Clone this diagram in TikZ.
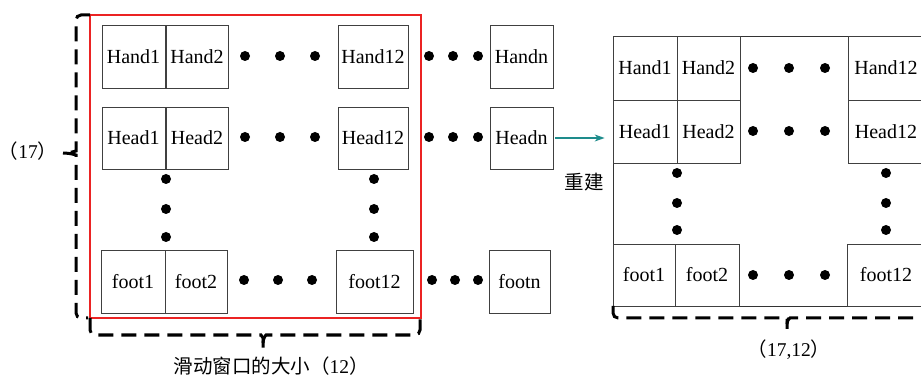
\documentclass[tikz,border=0pt]{standalone}
\usepackage{fontspec}
\setmainfont{Liberation Serif}
\newfontfamily\cjk{Noto Sans CJK SC}
\usetikzlibrary{arrows.meta}
\definecolor{teal1}{RGB}{30,140,140}
\definecolor{red1}{RGB}{235,35,35}
\begin{document}
\begin{tikzpicture}[x=1pt,y=-1pt,
  cell/.style={draw=black!75, line width=0.8pt, inner sep=0pt, minimum height=63pt,
    font=\fontsize{20}{21}\selectfont},
  dotf/.style={fill=black},
  brace/.style={draw=black, line width=3pt, dash pattern=on 15pt off 8pt, rounded corners=5pt},
  lbl/.style={inner sep=0pt, font=\fontsize{19.5}{21}\selectfont}]
\clip (0,0) rectangle (921,379);
\fill[white] (0,0) rectangle (921,379);
% ---------- left part ----------
\node[cell, minimum width=63pt] (h1) at (133.5,56.5) {Hand1};
\node[cell, minimum width=62pt] (h2) at (197,56.5) {Hand2};
\node[cell, minimum width=70pt] (h12) at (373,56.5) {Hand12};
\node[cell, minimum width=63pt] (hn) at (521.5,56.5) {Handn};
\node[cell, minimum width=63pt, minimum height=62pt] (e1) at (133.5,138) {Head1};
\node[cell, minimum width=62pt, minimum height=62pt] (e2) at (197,138) {Head2};
\node[cell, minimum width=70pt, minimum height=62pt] (e12) at (373,138) {Head12};
\node[cell, minimum width=63pt, minimum height=62pt] (en) at (521.5,138) {Headn};
\node[cell, minimum width=64pt] (f1) at (133,281.5) {foot1};
\node[cell, minimum width=62pt] (f2) at (196,281.5) {foot2};
\node[cell, minimum width=77pt] (f12) at (374.5,281.5) {foot12};
\node[cell, minimum width=61pt] (fn) at (519.5,281.5) {footn};
% dots
\foreach \x in {245,280,315,429,453,478} {\fill[dotf] (\x,56) circle (5pt); \fill[dotf] (\x,137) circle (5pt);}
\foreach \x in {244,278,312,432,455,478} {\fill[dotf] (\x,280) circle (5pt);}
\foreach \y in {179,209,237} {\fill[dotf] (166,\y) circle (5pt); \fill[dotf] (374,\y) circle (5pt);}
% red window
\draw[red1, line width=1.5pt] (90,15) rectangle (421,318);
% left brace
\draw[brace] (90,15) -- (76,15) -- (76,146) .. controls (76,151) and (70,153) .. (63,153);
\draw[brace] (63,153) .. controls (70,153) and (76,155) .. (76,160) -- (76,318) -- (88,318);
% bottom brace
\draw[brace] (90,318) -- (90,335) -- (256,335) .. controls (261,335) and (263,338) .. (263,343) -- (263,352);
\draw[brace] (263,343) .. controls (263,338) and (266,335) .. (271,335) -- (420,335) -- (420,318);
\node[lbl] (l17) at (28,151) {{\cjk （}17{\cjk ）}};
\node[lbl] (lwin) at (271,366) {{\cjk 滑动窗口的大小（}12{\cjk ）}};
% ---------- right part ----------
\draw[black!80, line width=0.8pt] (921,36) -- (613,36) -- (613,306) -- (921,306);
\node[cell, minimum width=64pt, minimum height=64pt] (rh1) at (645,68) {Hand1};
\node[cell, minimum width=63pt, minimum height=64pt] (rh2) at (708.5,68) {Hand2};
\node[cell, minimum width=76pt, minimum height=64pt] (rh12) at (886,68) {Hand12};
\node[cell, minimum width=64pt, minimum height=63pt] (re1) at (645,131.5) {Head1};
\node[cell, minimum width=63pt, minimum height=63pt] (re2) at (708.5,131.5) {Head2};
\node[cell, minimum width=76pt, minimum height=63pt] (re12) at (886,131.5) {Head12};
\node[cell, minimum width=62pt, minimum height=62pt] (rf1) at (644,275) {foot1};
\node[cell, minimum width=64pt, minimum height=62pt] (rf2) at (707,275) {foot2};
\node[cell, minimum width=78pt, minimum height=62pt] (rf12) at (886,275) {foot12};
\foreach \x in {753,789,825} {\fill[dotf] (\x,68) circle (5pt); \fill[dotf] (\x,131) circle (5pt); \fill[dotf] (\x,275) circle (5pt);}
\foreach \y in {173,203,230} {\fill[dotf] (677,\y) circle (5pt); \fill[dotf] (886,\y) circle (5pt);}
% right brace
\draw[brace] (613,306) -- (613,318) -- (780,318) .. controls (784,318) and (787,320) .. (787,324) -- (787,329);
\draw[brace] (787,324) .. controls (787,320) and (790,318) .. (795,318) -- (925,318);
\node[lbl] (l1712) at (789,350) {{\cjk （}17,12{\cjk ）}};
% arrow
\draw[teal1, line width=1.2pt, -{Stealth[length=10pt,width=7pt]}, shorten <=2pt, shorten >=8pt] (en.east) -- (re1.west |- en.east);
\node[lbl] (rebuild) at (584,182) {\cjk 重建};
\end{tikzpicture}
\end{document}
